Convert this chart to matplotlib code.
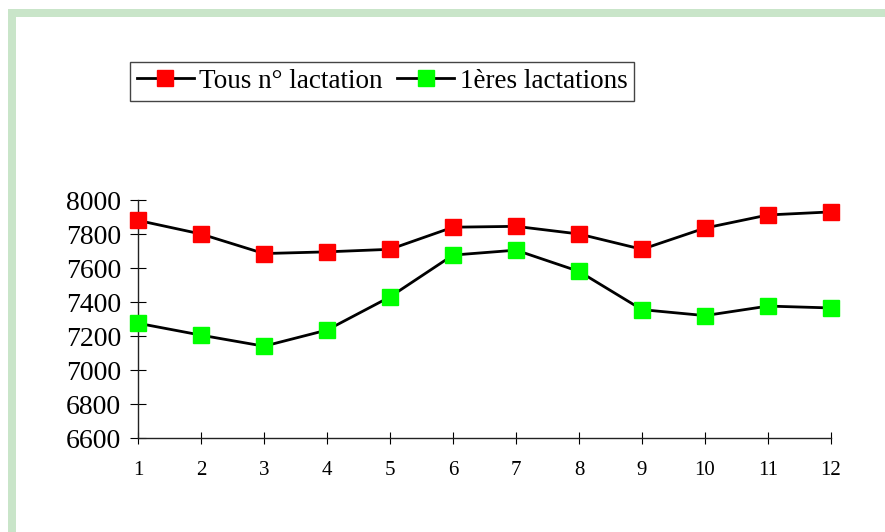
import matplotlib
matplotlib.use('Agg')
import matplotlib.pyplot as plt
from matplotlib.patches import Rectangle

# Data
months = list(range(1, 13))
tous = [7880, 7800, 7685, 7695, 7710, 7840, 7845, 7800, 7710, 7835, 7912, 7930]
premieres = [7275, 7205, 7140, 7235, 7430, 7676, 7705, 7580, 7355, 7320, 7376, 7365]
labels = ["Tous n\u00b0 lactation", "1\u00e8res lactations"]
yticks = [6600, 6800, 7000, 7200, 7400, 7600, 7800, 8000]

plt.rcParams['font.family'] = ['Liberation Serif', 'DejaVu Serif']

fig = plt.figure(figsize=(8.85, 5.32), dpi=100)
ax = fig.add_axes([138/885, 94/532, (831-138)/885, (438-200)/532])

# light green frame on left and top
fig.patches.append(Rectangle((8/885, 0), 8/885, 1 - 9/532, transform=fig.transFigure,
                             facecolor='#c9e5c9', edgecolor='none'))
fig.patches.append(Rectangle((8/885, 1 - 17/532), 1, 8/532, transform=fig.transFigure,
                             facecolor='#c9e5c9', edgecolor='none'))

ax.plot(months, tous, color='black', lw=2, marker='s', ms=11,
        mfc='#ff0000', mec='#ff0000', clip_on=False, zorder=3, label=labels[0])
ax.plot(months, premieres, color='black', lw=2, marker='s', ms=11,
        mfc='#00ff00', mec='#00ff00', clip_on=False, zorder=3, label=labels[1])

ax.set_xlim(1, 12)
ax.set_ylim(6600, 8000)
ax.set_xticks(months)
ax.set_yticks(yticks)
ax.spines['top'].set_visible(False)
ax.spines['right'].set_visible(False)
for s in ('left', 'bottom'):
    ax.spines[s].set_color('#222222')
    ax.spines[s].set_linewidth(1)
ax.tick_params(axis='y', direction='inout', length=12, labelsize=20, pad=6)
ax.tick_params(axis='x', direction='inout', length=9, labelsize=15, pad=12)

fig.legend(loc='upper left', bbox_to_anchor=(130/885, 1 - 62/532), ncol=2,
           fontsize=19.5, frameon=True, fancybox=False, edgecolor='#444444',
           framealpha=1, handlelength=2.1, handletextpad=0.2, columnspacing=0.55,
           borderpad=0.25, borderaxespad=0)

fig.savefig('out.png', dpi=100)
